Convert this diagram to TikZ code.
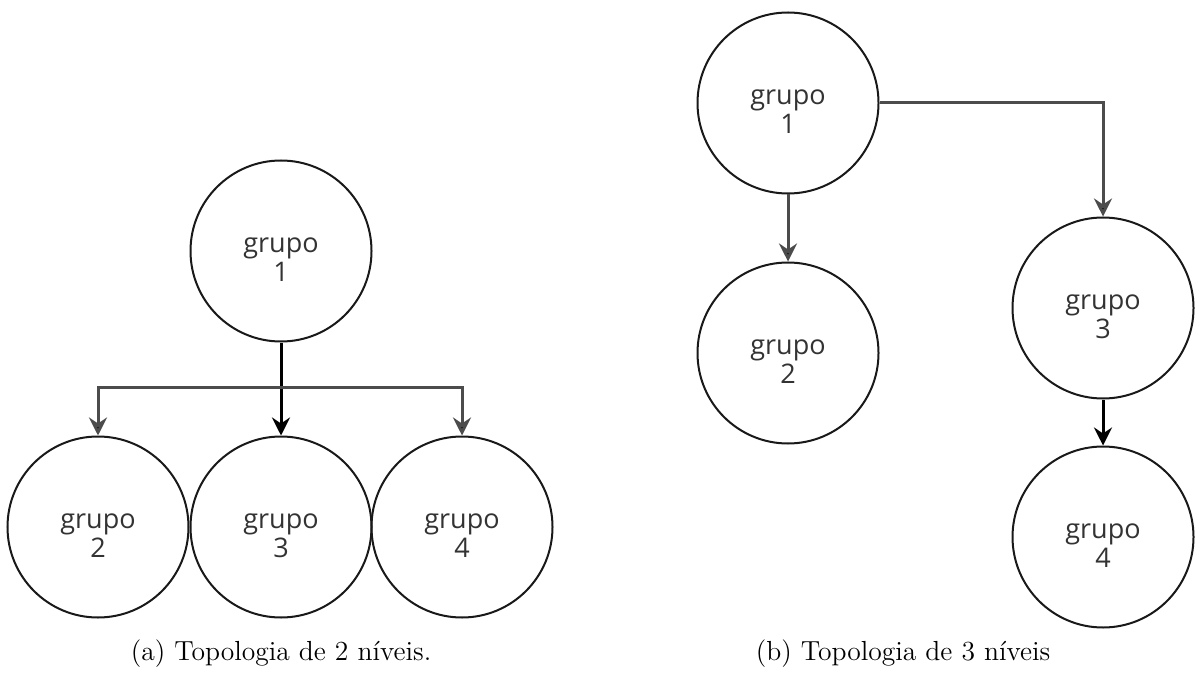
\documentclass[tikz,border=0pt]{standalone}
\usepackage{fontspec}
\newfontfamily\nodefont{Open Sans}
\usetikzlibrary{arrows.meta}
\newcommand{\tstrut}{\rule{0pt}{16pt}}
\begin{document}
\begin{tikzpicture}[x=0.5pt,y=-0.5pt,
  grp/.style={circle,draw=black!90,line width=1pt,minimum size=90.5pt,inner sep=0pt,
    align=center,text=black!80,font=\nodefont\fontsize{13.5}{14.6}\selectfont},
  arr/.style={draw=black!70,line width=1.5pt,-{Stealth[length=9pt,width=9pt,inset=3pt,fill=black]}},
  captxt/.style={anchor=base,font=\fontsize{13.8}{16}\selectfont,inner sep=0pt}]
\useasboundingbox (0,0) rectangle (1197,673);
% (a)
\node[grp] (a1) at (281,251) {\tstrut grupo\\1};
\node[grp] (a2) at (98,527) {\tstrut grupo\\2};
\node[grp] (a3) at (281,527) {\tstrut grupo\\3};
\node[grp] (a4) at (462,527) {\tstrut grupo\\4};
\coordinate (bus) at (281,387);
\draw[arr,draw=black] (a1.south) -- (a3.north);
\draw[arr] (bus) -| (a2.north);
\draw[arr] (bus) -| (a4.north);
% (b)
\node[grp] (b1) at (788,103) {\tstrut grupo\\1};
\node[grp] (b2) at (788,353) {\tstrut grupo\\2};
\node[grp] (b3) at (1103,308) {\tstrut grupo\\3};
\node[grp] (b4) at (1103,537) {\tstrut grupo\\4};
\draw[arr] (b1.south) -- (b2.north);
\draw[arr] (b1.east) -| (b3.north);
\draw[arr,draw=black] (b3.south) -- (b4.north);
% captions
\node[captxt] (capA) at (281,660) {(a) Topologia de 2 níveis.};
\node[captxt] (capB) at (903,660) {(b) Topologia de 3 níveis};
\end{tikzpicture}
\end{document}
